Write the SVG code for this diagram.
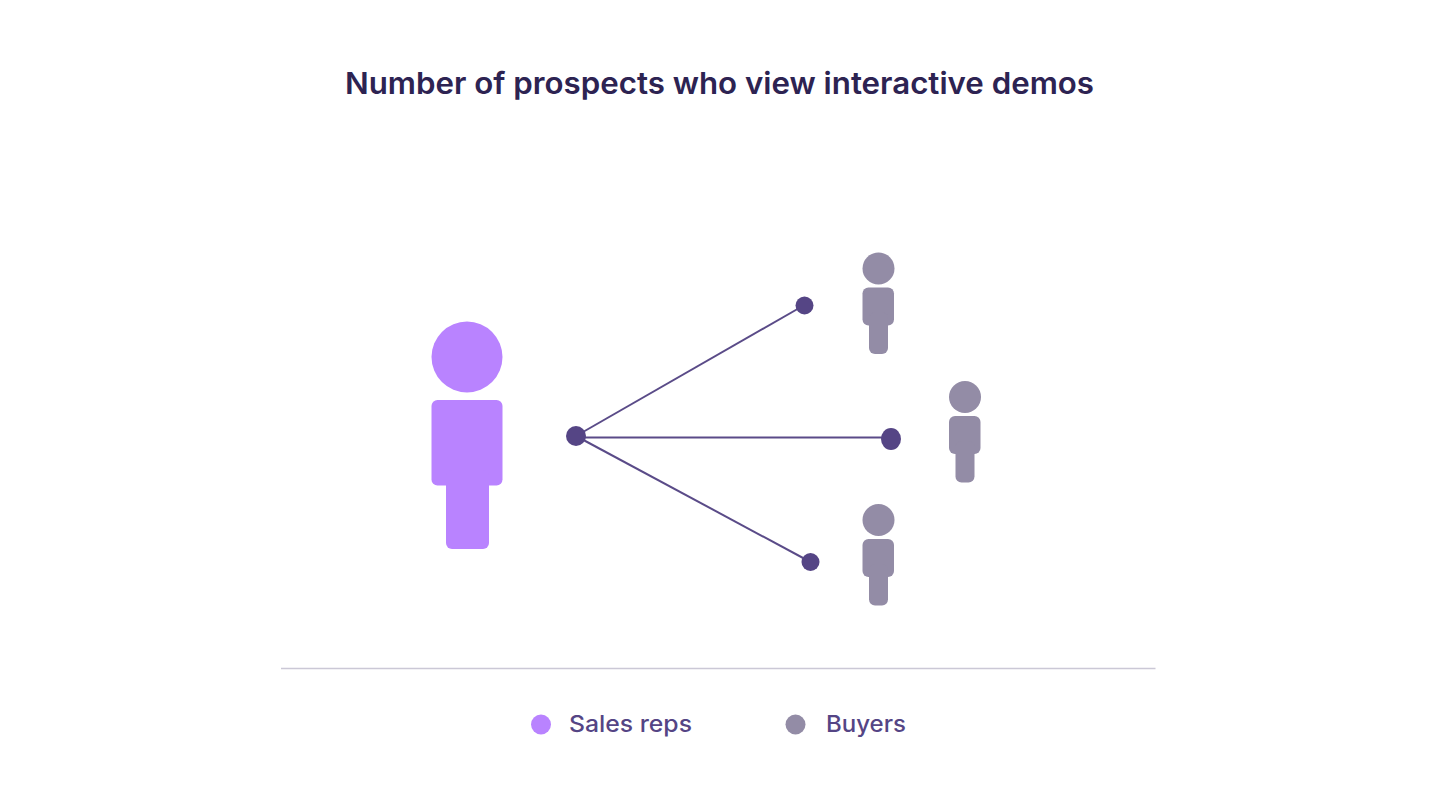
<svg xmlns="http://www.w3.org/2000/svg" width="1440" height="810" viewBox="0 0 1440 810">
<style>
.title{font-family:"Inter","Noto Sans",sans-serif;font-size:30px;font-weight:600;fill:#2d2352}
.legend{font-family:"Inter","Noto Sans",sans-serif;font-size:23px;font-weight:500;fill:#554585}
.rep{fill:#b983ff}
.buyer{fill:#938ca6}
.dot{fill:#554585}
.link{stroke:#5a4b88;stroke-width:2;fill:none}
</style>
<defs>
<g id="buyer-figure" class="buyer">
<circle cx="16" cy="16" r="16"/>
<rect x="0" y="35" width="31.500" height="38" rx="6"/>
<rect x="6.500" y="60" width="19" height="41.500" rx="6"/>
</g>
</defs>
<rect width="1440" height="810" fill="#ffffff"/>
<text class="title" x="345" y="94" textLength="749" lengthAdjust="spacingAndGlyphs">Number of prospects who view interactive demos</text>
<g id="connectors">
<line class="link" x1="576" y1="436" x2="804.500" y2="305"/>
<line class="link" x1="576" y1="437.500" x2="891" y2="437.500"/>
<line class="link" x1="576" y1="436" x2="810.500" y2="562"/>
</g>
<g id="sales-rep" class="rep">
<circle cx="467" cy="357" r="35.500"/>
<rect x="431.500" y="400" width="71" height="85.500" rx="6"/>
<rect x="446" y="470" width="43" height="79" rx="6"/>
</g>
<g id="source-dot"><circle class="dot" cx="576" cy="436" r="10"/></g>
<g id="target-dot-top"><circle class="dot" cx="804.500" cy="305.500" r="9"/></g>
<g id="target-dot-middle"><ellipse class="dot" cx="891" cy="439" rx="10" ry="11"/></g>
<g id="target-dot-bottom"><circle class="dot" cx="810.500" cy="562" r="9"/></g>
<g id="buyer-top"><use href="#buyer-figure" x="862.500" y="252.500"/></g>
<g id="buyer-middle"><use href="#buyer-figure" x="949" y="381"/></g>
<g id="buyer-bottom"><use href="#buyer-figure" x="862.500" y="504"/></g>
<line id="divider" x1="281" y1="668.500" x2="1155.500" y2="668.500" stroke="#cbc8d6" stroke-width="1.500"/>
<g id="legend-sales-reps">
<circle class="rep" cx="541" cy="724.500" r="10"/>
<text class="legend" x="569" y="732" textLength="123" lengthAdjust="spacingAndGlyphs">Sales reps</text>
</g>
<g id="legend-buyers">
<circle class="buyer" cx="795.500" cy="724.500" r="10"/>
<text class="legend" x="826" y="732" textLength="80" lengthAdjust="spacingAndGlyphs">Buyers</text>
</g>
</svg>
